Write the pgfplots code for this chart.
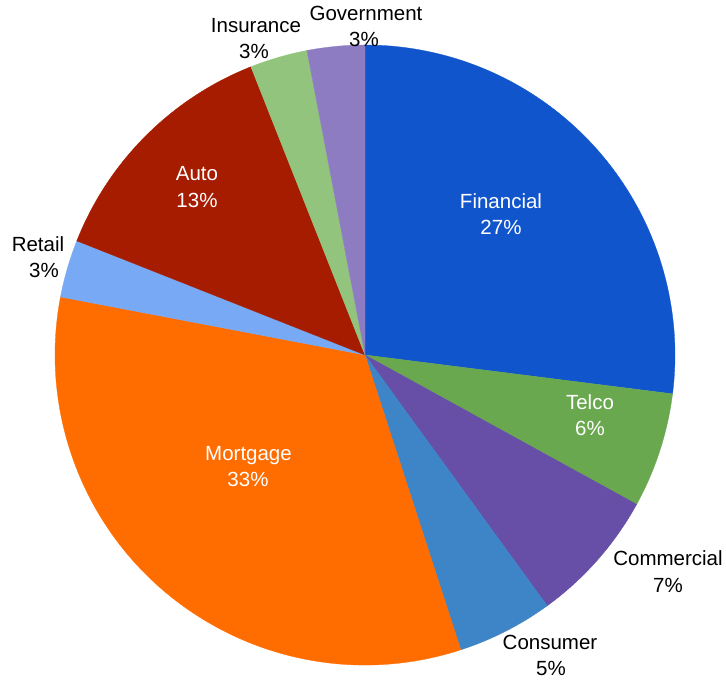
\documentclass[border=0pt]{standalone}
\usepackage{pgfplots}
\pgfplotsset{compat=1.18}
\usepackage{fontspec}
\setmainfont{Liberation Sans}
\definecolor{cFin}{HTML}{1155CC}
\definecolor{cTel}{HTML}{6AA84F}
\definecolor{cCom}{HTML}{674EA7}
\definecolor{cCon}{HTML}{3D85C6}
\definecolor{cMor}{HTML}{FF6D01}
\definecolor{cRet}{HTML}{78A9F4}
\definecolor{cAut}{HTML}{A61C00}
\definecolor{cIns}{HTML}{93C47D}
\definecolor{cGov}{HTML}{8E7CC3}
\tikzset{lbl/.style={anchor=base, inner sep=0pt, font=\fontsize{20.5}{24}\selectfont}}

\begin{document}
\begin{tikzpicture}
\begin{axis}[
  scale only axis, width=726pt, height=678pt,
  xmin=0, xmax=726, ymin=0, ymax=678,
  hide axis, clip=false,
]
\path (axis cs:0,-1.5) rectangle (axis cs:726,678);
% slices, clockwise from 12 o'clock, centre (365,323), radius 310
% (overlay: bezier control points of the arcs would otherwise grow the page)
\xdef\startang{90}
\foreach \v/\c in {27/cFin, 6/cTel, 7/cCom, 5/cCon, 33/cMor, 3/cRet, 13/cAut, 3/cIns, 3/cGov}{
  \pgfmathsetmacro\endang{\startang-3.6*\v}
  \pgfmathsetmacro\sx{365+310*cos(\startang)}
  \pgfmathsetmacro\sy{323+310*sin(\startang)}
  \edef\temp{\noexpand\fill[overlay, \c, draw=\c, line width=0.3pt] (axis cs:365,323) -- (axis cs:\sx,\sy)
    arc[start angle=\startang, end angle=\endang, radius=310pt] -- cycle;}
  \temp
  \xdef\startang{\endang}
}
% labels
\node[lbl, white] at (axis cs:501,469.3) {Financial};
\node[lbl, white] at (axis cs:501,443) {27\%};
\node[lbl, white] at (axis cs:590,268.7) {Telco};
\node[lbl, white] at (axis cs:590,242.3) {6\%};
\node[lbl, white] at (axis cs:248.5,217) {Mortgage};
\node[lbl, white] at (axis cs:248,191.3) {33\%};
\node[lbl, white] at (axis cs:197,497) {Auto};
\node[lbl, white] at (axis cs:197,470.7) {13\%};
\node[lbl] at (axis cs:668,112.3) {Commercial};
\node[lbl] at (axis cs:668,85.7) {7\%};
\node[lbl] at (axis cs:550,28.5) {Consumer};
\node[lbl] at (axis cs:551,2.5) {5\%};
\node[lbl] at (axis cs:38,426.3) {Retail};
\node[lbl] at (axis cs:44,400.7) {3\%};
\node[lbl] at (axis cs:256,645.7) {Insurance};
\node[lbl] at (axis cs:254,619) {3\%};
\node[lbl] at (axis cs:366,657.3) {Government};
\node[lbl] at (axis cs:364,631.3) {3\%};
\end{axis}
\end{tikzpicture}
\end{document}
